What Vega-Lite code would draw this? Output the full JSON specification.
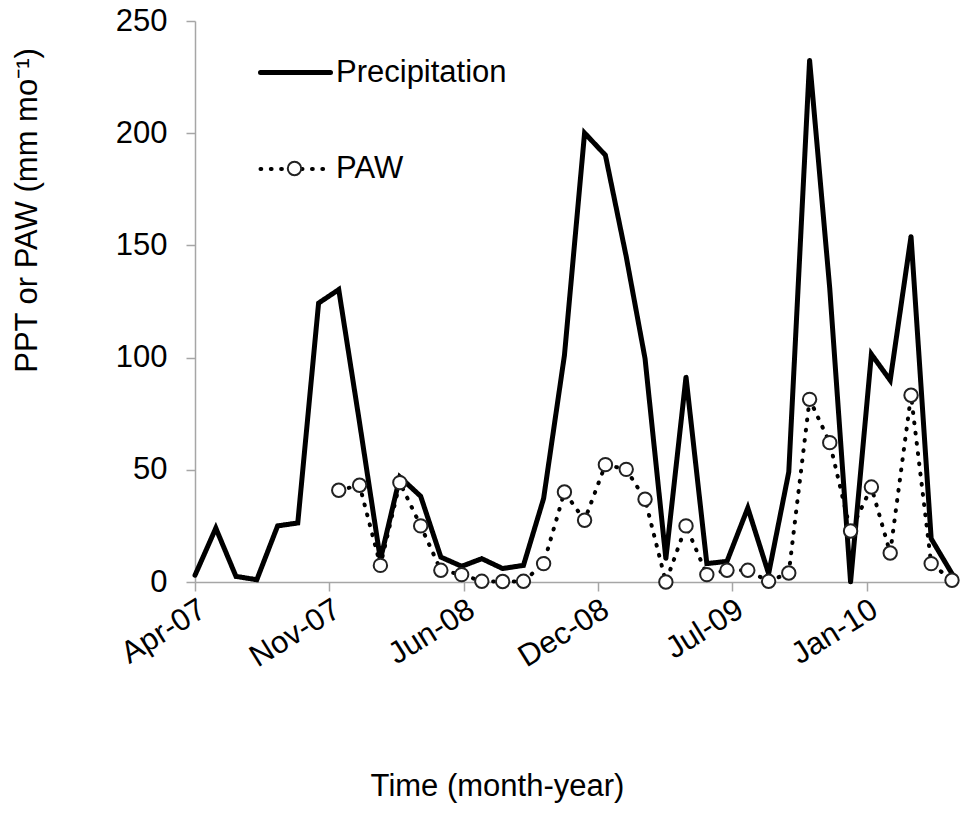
{
  "$schema": "https://vega.github.io/schema/vega-lite/v6.json",
  "width": 757,
  "height": 561,
  "autosize": {"type": "none"},
  "padding": {"left": 195, "top": 21, "right": 8, "bottom": 231},
  "background": "white",
  "config": {
    "view": {"stroke": null},
    "font": "Liberation Sans",
    "axis": {"grid": false, "domainColor": "#a6a6a6", "tickColor": "#a6a6a6", "domainWidth": 1.5, "tickWidth": 1.5, "tickSize": 9, "labelFont": "Liberation Sans", "labelFontSize": 31, "labelColor": "black", "titleFont": "Liberation Sans", "titleFontSize": 31, "titleFontWeight": "normal", "titleColor": "black"},
    "legend": {"labelFont": "Liberation Sans", "labelFontSize": 31, "labelColor": "black", "labelLimit": 0}
  },
  "data": {"values": [
    {"date": "2007-04-30", "series": "Precipitation", "value": 3},
    {"date": "2007-05-31", "series": "Precipitation", "value": 24},
    {"date": "2007-06-30", "series": "Precipitation", "value": 2.5},
    {"date": "2007-07-31", "series": "Precipitation", "value": 1},
    {"date": "2007-08-31", "series": "Precipitation", "value": 25},
    {"date": "2007-09-30", "series": "Precipitation", "value": 26.3},
    {"date": "2007-10-31", "series": "Precipitation", "value": 124.3},
    {"date": "2007-11-30", "series": "Precipitation", "value": 130.3},
    {"date": "2007-12-31", "series": "Precipitation", "value": 71},
    {"date": "2008-01-31", "series": "Precipitation", "value": 10},
    {"date": "2008-02-29", "series": "Precipitation", "value": 46.8},
    {"date": "2008-03-31", "series": "Precipitation", "value": 38.2},
    {"date": "2008-04-30", "series": "Precipitation", "value": 11.1},
    {"date": "2008-05-31", "series": "Precipitation", "value": 7},
    {"date": "2008-06-30", "series": "Precipitation", "value": 10.4},
    {"date": "2008-07-31", "series": "Precipitation", "value": 6},
    {"date": "2008-08-31", "series": "Precipitation", "value": 7.4},
    {"date": "2008-09-30", "series": "Precipitation", "value": 37.2},
    {"date": "2008-10-31", "series": "Precipitation", "value": 101},
    {"date": "2008-11-30", "series": "Precipitation", "value": 200.1},
    {"date": "2008-12-31", "series": "Precipitation", "value": 190.2},
    {"date": "2009-01-31", "series": "Precipitation", "value": 145},
    {"date": "2009-02-28", "series": "Precipitation", "value": 99.6},
    {"date": "2009-03-31", "series": "Precipitation", "value": 10.4},
    {"date": "2009-04-30", "series": "Precipitation", "value": 91.4},
    {"date": "2009-05-31", "series": "Precipitation", "value": 8.2},
    {"date": "2009-06-30", "series": "Precipitation", "value": 9.2},
    {"date": "2009-07-31", "series": "Precipitation", "value": 33},
    {"date": "2009-08-31", "series": "Precipitation", "value": 3.7},
    {"date": "2009-09-30", "series": "Precipitation", "value": 49},
    {"date": "2009-10-31", "series": "Precipitation", "value": 232.5},
    {"date": "2009-11-30", "series": "Precipitation", "value": 130.8},
    {"date": "2009-12-31", "series": "Precipitation", "value": 0},
    {"date": "2010-01-31", "series": "Precipitation", "value": 101.5},
    {"date": "2010-02-28", "series": "Precipitation", "value": 89.9},
    {"date": "2010-03-31", "series": "Precipitation", "value": 154},
    {"date": "2010-04-30", "series": "Precipitation", "value": 19.3},
    {"date": "2010-05-31", "series": "Precipitation", "value": 3.7},
    {"date": "2007-11-30", "series": "PAW", "value": 40.9},
    {"date": "2007-12-31", "series": "PAW", "value": 43.1},
    {"date": "2008-01-31", "series": "PAW", "value": 7.4},
    {"date": "2008-02-29", "series": "PAW", "value": 44.3},
    {"date": "2008-03-31", "series": "PAW", "value": 25},
    {"date": "2008-04-30", "series": "PAW", "value": 5.2},
    {"date": "2008-05-31", "series": "PAW", "value": 3.3},
    {"date": "2008-06-30", "series": "PAW", "value": 0.3},
    {"date": "2008-07-31", "series": "PAW", "value": 0.2},
    {"date": "2008-08-31", "series": "PAW", "value": 0.3},
    {"date": "2008-09-30", "series": "PAW", "value": 8.2},
    {"date": "2008-10-31", "series": "PAW", "value": 40.1},
    {"date": "2008-11-30", "series": "PAW", "value": 27.5},
    {"date": "2008-12-31", "series": "PAW", "value": 52.3},
    {"date": "2009-01-31", "series": "PAW", "value": 50.2},
    {"date": "2009-02-28", "series": "PAW", "value": 36.9},
    {"date": "2009-03-31", "series": "PAW", "value": 0},
    {"date": "2009-04-30", "series": "PAW", "value": 25},
    {"date": "2009-05-31", "series": "PAW", "value": 3.3},
    {"date": "2009-06-30", "series": "PAW", "value": 5.2},
    {"date": "2009-07-31", "series": "PAW", "value": 5.2},
    {"date": "2009-08-31", "series": "PAW", "value": 0.3},
    {"date": "2009-09-30", "series": "PAW", "value": 4},
    {"date": "2009-10-31", "series": "PAW", "value": 81.4},
    {"date": "2009-11-30", "series": "PAW", "value": 62.1},
    {"date": "2009-12-31", "series": "PAW", "value": 22.7},
    {"date": "2010-01-31", "series": "PAW", "value": 42.3},
    {"date": "2010-02-28", "series": "PAW", "value": 12.9},
    {"date": "2010-03-31", "series": "PAW", "value": 83.2},
    {"date": "2010-04-30", "series": "PAW", "value": 8.2},
    {"date": "2010-05-31", "series": "PAW", "value": 0.8}
  ]},
  "encoding": {
    "x": {
      "field": "date", "type": "temporal",
      "scale": {"type": "utc", "domain": [{"year": 2007, "month": 4, "date": 30, "utc": true}, {"year": 2010, "month": 5, "date": 31, "utc": true}]},
      "axis": {
        "title": "Time (month-year)",
        "format": "%b-%y",
        "values": [
          {"year": 2007, "month": 4, "date": 30, "utc": true},
          {"year": 2007, "month": 11, "date": 16, "utc": true},
          {"year": 2008, "month": 6, "date": 3, "utc": true},
          {"year": 2008, "month": 12, "date": 20, "utc": true},
          {"year": 2009, "month": 7, "date": 8, "utc": true},
          {"year": 2010, "month": 1, "date": 24, "utc": true}
        ],
        "labelAngle": -32,
        "labelAlign": "right",
        "labelBaseline": "top",
        "labelPadding": 3,
        "labelFlush": false,
        "labelOverlap": false,
        "titleX": 302,
        "titleY": 213,
        "titleAnchor": null,
        "titleAlign": "center",
        "titleBaseline": "alphabetic"
      }
    },
    "y": {
      "field": "value", "type": "quantitative",
      "scale": {"domain": [0, 250], "nice": false, "zero": true},
      "axis": {
        "title": "PPT or PAW (mm mo⁻¹)",
        "values": [0, 50, 100, 150, 200, 250],
        "labelPadding": 19,
        "titleAngle": -90,
        "titleX": -159,
        "titleY": 189,
        "titleAlign": "center",
        "titleBaseline": "alphabetic"
      }
    }
  },
  "layer": [
    {
      "mark": {"type": "line", "color": "black", "strokeCap": "round", "strokeJoin": "miter"},
      "encoding": {
        "strokeDash": {
          "field": "series", "type": "nominal",
          "scale": {"domain": ["Precipitation", "PAW"], "range": [[1, 0], [0.8, 9.5]]},
          "legend": {
            "orient": "none", "legendX": 63, "legendY": 14, "title": null,
            "direction": "vertical",
            "symbolType": "stroke", "symbolSize": 4900, "symbolStrokeColor": "black",
            "rowPadding": 44, "labelOffset": 3, "labelLimit": 0,
            "encode": {"symbols": {"update": {"strokeCap": {"value": "round"}}}}
          }
        },
        "strokeWidth": {
          "field": "series", "type": "nominal",
          "scale": {"domain": ["Precipitation", "PAW"], "range": [5, 4]},
          "legend": null
        }
      }
    },
    {
      "transform": [{"filter": "datum.series === 'PAW'"}],
      "mark": {"type": "point", "filled": true, "color": "white", "stroke": "#222222", "strokeWidth": 2, "size": 180, "opacity": 1},
      "encoding": {
        "fill": {
          "field": "series", "type": "nominal",
          "scale": {"domain": ["PAW"], "range": ["white"]},
          "legend": {
            "orient": "none", "legendX": 84, "legendY": 132, "title": null,
            "symbolType": "circle", "symbolSize": 180, "symbolFillColor": "white", "symbolStrokeColor": "#222222", "symbolStrokeWidth": 2, "symbolOpacity": 1,
            "labelExpr": "''", "labelOffset": 0
          }
        }
      }
    }
  ]
}
